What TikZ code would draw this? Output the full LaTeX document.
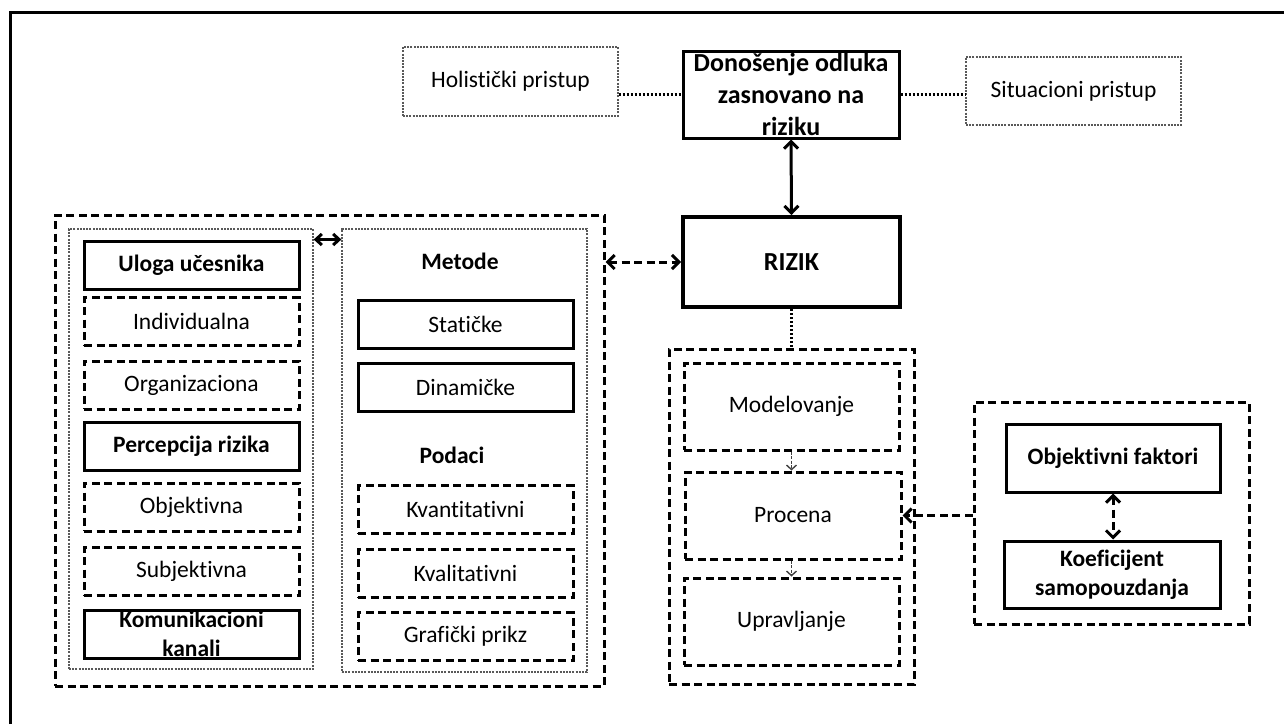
\documentclass[tikz,border=0pt]{standalone}
\usepackage{fontspec}
\setmainfont{Carlito}[Ligatures=NoCommon]
\usepackage{tikz}
\usetikzlibrary{arrows,arrows.meta}

\tikzset{
	>={Straight Barb[length=7pt,width=14pt]},
	puna/.style={draw, line width=3pt, inner sep=0pt, align=center, minimum width=215pt, minimum height=48pt},
	isprek/.style={puna, dash pattern=on 8pt off 4.5pt},
	tacke/.style={draw=black!65, line width=1.3pt, dash pattern=on 2pt off 1.2pt, inner sep=0pt, align=center, minimum width=215pt},
	grupa/.style={draw, line width=3pt, dash pattern=on 8pt off 4.5pt, inner sep=0pt},
	btxt/.style={font=\fontsize{23.5}{29}\selectfont\bfseries},
	vtxt/.style={font=\fontsize{26}{32}\selectfont\bfseries},
	spoj/.style={line width=2.2pt, dash pattern=on 2pt off 2pt},
	strel/.style={line width=3pt, dash pattern=on 8pt off 4.5pt},
	malastr/.style={draw=black!75, line width=1.4pt, dash pattern=on 3pt off 1.5pt, -{Straight Barb[length=4.5pt,width=10pt]}}
}

\begin{document}
\begin{tikzpicture}[x=1pt, y=-1pt, font=\fontsize{23.5}{29}\selectfont]
		\useasboundingbox (0,0) rectangle (1284,724);
		\draw [line width=3pt] (10,724) -- (10,12) -- (1284,12);
		
		\node [tacke, minimum height=69pt] (holist) at (510.5,81.5) {Holistički pristup};
		\node [puna, vtxt, minimum width=216pt, minimum height=87pt] (odluka) at (791,94.5) {Donošenje odluka\\zasnovano na\\riziku};
		\node [tacke, minimum height=68pt] (situac) at (1073.5,91) {Situacioni pristup};
		\node [puna, vtxt, line width=4pt, minimum width=217pt, minimum height=90pt] (rizik) at (791.5,262) {RIZIK};
		
		\node [grupa, minimum width=549pt, minimum height=471pt] (grpA) at (329.5,450.5) {};
		\node [tacke, minimum width=244pt, minimum height=440pt] (grpUc) at (191,449) {};
		\node [tacke, minimum width=245pt, minimum height=443pt] (grpMet) at (464.5,450.5) {};
		
		\node [puna, btxt] (uloga) at (191.5,265) {Uloga učesnika};
		\node [isprek] (indiv) at (191.5,321.5) {Individualna};
		\node [isprek] (organ) at (191.5,385) {Organizaciona};
		\node [puna, btxt] (percep) at (191.5,446.5) {Percepcija rizika};
		\node [isprek] (objekt) at (191.5,507) {Objektivna};
		\node [isprek] (subjekt) at (191.5,571.5) {Subjektivna};
		\node [puna, btxt] (komun) at (191.5,634) {Komunikacioni\\kanali};
		
		\node [btxt] (metode) at (460,261) {Metode};
		\node [puna] (static) at (465.5,324) {Statičke};
		\node [puna] (dinam) at (465.5,387.5) {Dinamičke};
		\node [btxt] (podaci) at (452,455) {Podaci};
		\node [isprek] (kvant) at (465.5,509.5) {Kvantitativni};
		\node [isprek] (kval) at (465.5,573.5) {Kvalitativni};
		\node [isprek] (graf) at (465.5,636.5) {Grafički prikz};
		
		\node [grupa, minimum width=245pt, minimum height=335pt] (grpB) at (791.5,516.5) {};
		\node [isprek, minimum height=87pt] (model) at (791.5,406.5) {Modelovanje};
		\node [isprek, minimum width=216pt, minimum height=87pt] (procena) at (793,515.5) {Procena};
		\node [isprek, minimum height=87pt] (uprav) at (791.5,621.5) {Upravljanje};
		
		\node [grupa, minimum width=275pt, minimum height=222pt] (grpC) at (1111.5,513) {};
		\node [puna, btxt, minimum width=214pt, minimum height=68pt] (faktori) at (1113,458) {Objektivni faktori};
		\node [puna, btxt, minimum width=216pt, minimum height=67pt] (koef) at (1112,574.5) {Koeficijent\\samopouzdanja};
		
		\draw [spoj] (odluka.west -| holist.east) -- (odluka.west);
		\draw [spoj] (odluka.east) -- (odluka.east -| situac.west);
		\draw [line width=3pt, <->] (odluka.south) -- (rizik.north);
		\draw [strel, <->] (rizik.west -| grpA.east) -- (rizik.west);
		\draw [line width=3pt, {Straight Barb[length=6pt,width=11pt]}-{Straight Barb[length=6pt,width=11pt]}] (uloga.north -| grpUc.east) -- (uloga.north -| grpMet.west);
		\draw [spoj] (rizik.south) -- (grpB.north);
		\draw [malastr] (model.south) -- (model.south |- procena.north);
		\draw [malastr] (uprav.north |- procena.south) -- (uprav.north);
		\draw [strel, ->] (procena.east -| grpC.west) -- (procena.east);
		\draw [strel, <->] (faktori.south) -- (faktori.south |- koef.north);
\end{tikzpicture}
\end{document}
